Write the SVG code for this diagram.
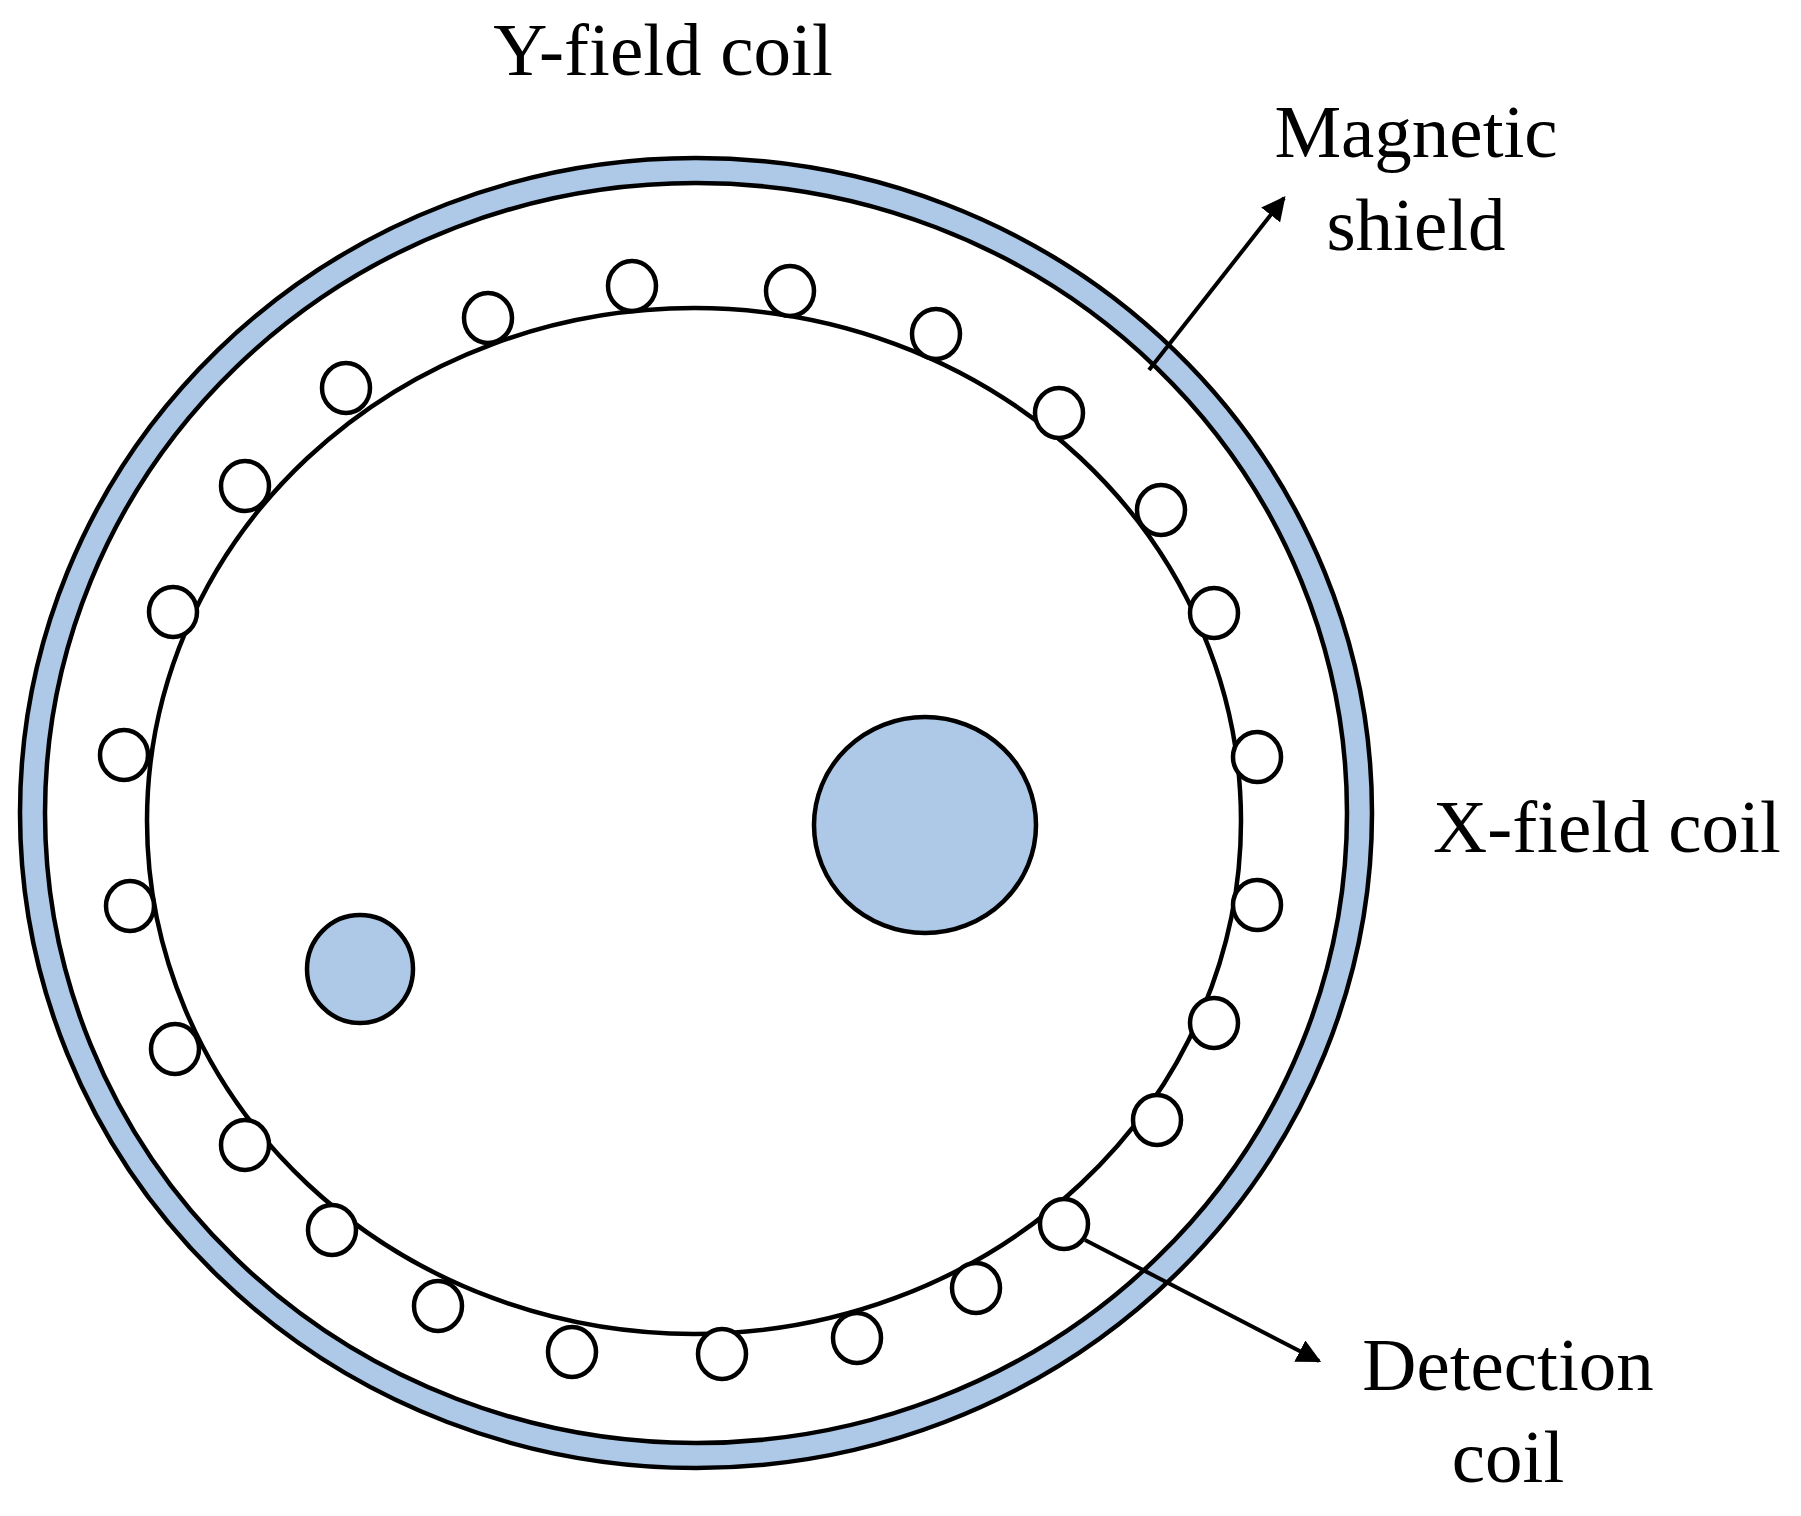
<svg xmlns="http://www.w3.org/2000/svg" width="1801" height="1516" viewBox="0 0 1801 1516">
<style>
.t{font-family:"Liberation Serif",serif;font-size:75px;fill:#000}
.c{fill:#fff;stroke:#000;stroke-width:4.5}
.b{fill:#aec8e8;stroke:#000;stroke-width:4.5}
.l{stroke:#000;stroke-width:4;fill:none}
</style>
<defs><marker id="a" viewBox="0 0 10 10" refX="9" refY="5" markerWidth="6" markerHeight="6" orient="auto" markerUnits="strokeWidth"><path d="M0,0L10,5L0,10z" fill="#000"/></marker></defs>
<rect width="1801" height="1516" fill="#fff"/>
<g id="shield"><ellipse class="b" cx="696" cy="813" rx="676" ry="655"/><ellipse class="c" cx="696" cy="813" rx="651" ry="630"/></g>
<g id="xfield"><ellipse class="c" cx="694" cy="821" rx="547" ry="513"/></g>
<g id="detection">
<ellipse class="c" cx="632" cy="286" rx="24" ry="25"/><ellipse class="c" cx="790" cy="291" rx="24" ry="25"/><ellipse class="c" cx="936" cy="334" rx="24" ry="25"/><ellipse class="c" cx="1059" cy="413" rx="24" ry="25"/><ellipse class="c" cx="1161" cy="510" rx="24" ry="25"/><ellipse class="c" cx="1214" cy="613" rx="24" ry="25"/><ellipse class="c" cx="1257" cy="757" rx="24" ry="25"/><ellipse class="c" cx="1257" cy="905" rx="24" ry="25"/><ellipse class="c" cx="1214" cy="1023" rx="24" ry="25"/><ellipse class="c" cx="1157" cy="1120" rx="24" ry="25"/><ellipse class="c" cx="1064" cy="1224" rx="24" ry="25"/><ellipse class="c" cx="976" cy="1288" rx="24" ry="25"/><ellipse class="c" cx="857" cy="1338" rx="24" ry="25"/><ellipse class="c" cx="722" cy="1354" rx="24" ry="25"/><ellipse class="c" cx="572" cy="1352" rx="24" ry="25"/><ellipse class="c" cx="438" cy="1306" rx="24" ry="25"/><ellipse class="c" cx="332" cy="1230" rx="24" ry="25"/><ellipse class="c" cx="245" cy="1145" rx="24" ry="25"/><ellipse class="c" cx="175" cy="1049" rx="24" ry="25"/><ellipse class="c" cx="130" cy="906" rx="24" ry="25"/><ellipse class="c" cx="124" cy="755" rx="24" ry="25"/><ellipse class="c" cx="173" cy="612" rx="24" ry="25"/><ellipse class="c" cx="245" cy="486" rx="24" ry="25"/><ellipse class="c" cx="346" cy="388" rx="24" ry="25"/><ellipse class="c" cx="488" cy="318" rx="24" ry="25"/>
</g>
<g id="samples"><ellipse class="b" cx="925" cy="825" rx="111" ry="108"/><ellipse class="b" cx="360" cy="969" rx="53" ry="54"/></g>
<g id="connectors"><line class="l" x1="1149" y1="370" x2="1284" y2="198" marker-end="url(#a)"/><line class="l" x1="1085" y1="1240" x2="1319" y2="1361" marker-end="url(#a)"/></g>
<g id="labels">
<text class="t" x="663" y="75" text-anchor="middle">Y-field coil</text>
<text class="t" x="1416" y="157" text-anchor="middle">Magnetic</text>
<text class="t" x="1416" y="250" text-anchor="middle">shield</text>
<text class="t" x="1433" y="852">X-field coil</text>
<text class="t" x="1508" y="1390" text-anchor="middle">Detection</text>
<text class="t" x="1508" y="1482" text-anchor="middle">coil</text>
</g>
</svg>
